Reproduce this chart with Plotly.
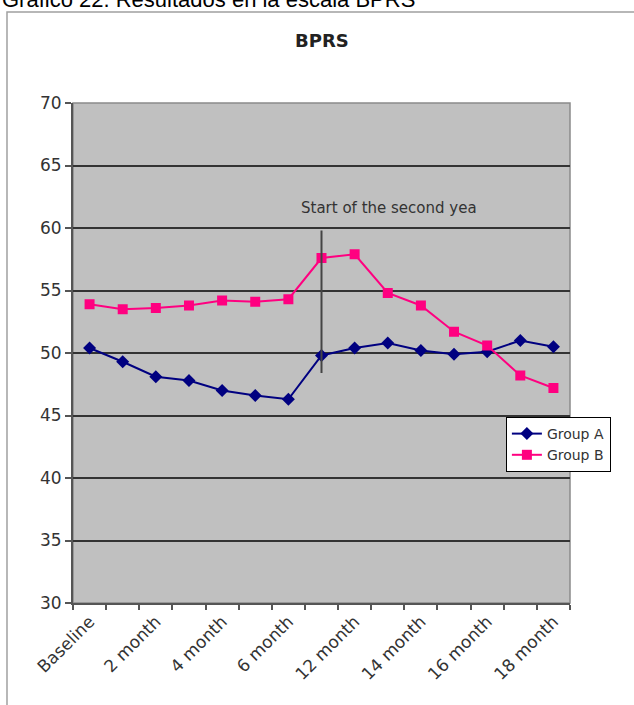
import plotly.graph_objects as go

# ---- data ----
categories = ["Baseline", "1 month", "2 month", "3 month", "4 month", "5 month",
              "6 month", "9 month", "12 month", "13 month", "14 month", "15 month",
              "16 month", "17 month", "18 month"]
group_a = [50.4, 49.3, 48.1, 47.8, 47.0, 46.6, 46.3, 49.8, 50.4, 50.8, 50.2, 49.9, 50.1, 51.0, 50.5]
group_b = [53.9, 53.5, 53.6, 53.8, 54.2, 54.1, 54.3, 57.6, 57.9, 54.8, 53.8, 51.7, 50.6, 48.2, 47.2]
y_ticks = [30, 35, 40, 45, 50, 55, 60, 65, 70]
x_tick_text = [c if i % 2 == 0 else "" for i, c in enumerate(categories)]

marker_category = "9 month"      # "start of the second year" marker line
marker_from, marker_to = 48.4, 59.8
note_text = "Start of the second yea"
note_value = 61.6

FONT = "DejaVu Sans"
TXT = "#333333"

fig = go.Figure()
fig.add_trace(go.Scatter(
    x=categories, y=group_a, name="Group A", mode="lines+markers",
    line=dict(color="#000080", width=2),
    marker=dict(symbol="diamond", size=10, color="#000080"),
))
fig.add_trace(go.Scatter(
    x=categories, y=group_b, name="Group B", mode="lines+markers",
    line=dict(color="#FF0080", width=2),
    marker=dict(symbol="square", size=10, color="#FF0080"),
))

fig.update_layout(
    width=634, height=705,
    margin=dict(l=73, r=64, t=103, b=102),
    paper_bgcolor="white",
    plot_bgcolor="#C0C0C0",
    font=dict(family=FONT, color=TXT),
    showlegend=True,
    legend=dict(
        x=0.871, y=0.372, xanchor="left", yanchor="top",
        bgcolor="white", bordercolor="black", borderwidth=1,
        font=dict(family=FONT, size=14, color=TXT),
        tracegroupgap=0,
    ),
    xaxis=dict(
        type="category", range=[-0.5, len(categories) - 0.5],
        tickmode="array", tickvals=categories, ticktext=x_tick_text,
        tickson="boundaries", ticks="outside", ticklen=5, tickwidth=2, tickcolor="#555555",
        tickangle=-45, tickfont=dict(family=FONT, size=17, color=TXT),
        showgrid=False, showline=True, linecolor="#555555", linewidth=2,
        zeroline=False,
    ),
    yaxis=dict(
        range=[30, 70], tickmode="array", tickvals=y_ticks,
        ticks="outside", ticklen=6, tickwidth=2, tickcolor="#555555",
        tickfont=dict(family=FONT, size=17, color=TXT),
        showgrid=True, gridcolor="#333333", gridwidth=1.5,
        showline=True, linecolor="#555555", linewidth=2, zeroline=False,
    ),
)

# plot-area right/top edge
fig.add_shape(type="rect", xref="paper", yref="paper", x0=0, x1=1, y0=0, y1=1,
              line=dict(color="#8a8a8a", width=1.5), layer="below")
# outer chart frame (extends beyond right/bottom)
fig.add_shape(type="rect", xref="paper", yref="paper", x0=-0.1328, x1=1.3, y0=-0.5, y1=1.182,
              line=dict(color="#a0a0a0", width=1.5), fillcolor="rgba(0,0,0,0)", layer="below")
# vertical "second year" line
fig.add_shape(type="line", xref="x", yref="y", x0=marker_category, x1=marker_category,
              y0=marker_from, y1=marker_to, line=dict(color="#444444", width=2))

fig.add_annotation(text=note_text, xref="paper", yref="y", x=0.455, y=note_value,
                   xanchor="left", yanchor="middle", showarrow=False,
                   font=dict(family=FONT, size=15, color=TXT))
fig.add_annotation(text="<b>BPRS</b>", xref="paper", yref="paper", x=0.5, y=1.124,
                   xanchor="center", yanchor="middle", showarrow=False,
                   font=dict(family=FONT, size=18, color="#222222"))
fig.add_annotation(text="Gráfico 22. Resultados en la escala BPRS", xref="paper", yref="paper",
                   x=-0.1469, y=1.208, xanchor="left", yanchor="middle", showarrow=False,
                   font=dict(family="Liberation Sans", size=22, color="black"))

fig.write_html("out.html", config={"displayModeBar": False},
               post_script="document.body.style.margin='0';")
